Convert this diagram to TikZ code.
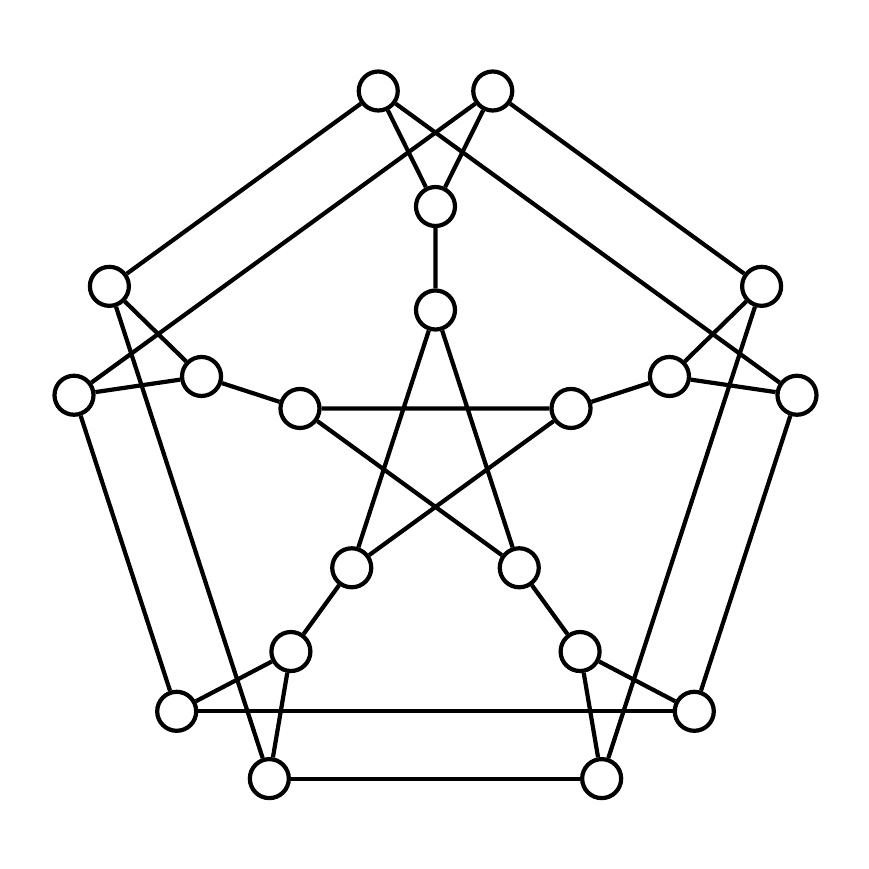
\documentclass[tikz,border=0pt]{standalone}
\usepackage{amsmath}
\usepackage{tikz}
\usetikzlibrary{shapes,arrows}

\begin{document}
\begin{tikzpicture}%[thick,node distance=2cm]
                [every path/.style={line width=1.2pt},
                 every node/.style={draw,circle,minimum size=3.9mm,inner sep=0pt}]
  \useasboundingbox (-4.355,-4.165) rectangle (4.335,4.525);
  % outer pairs
  \node (o0a) at (81:3.66)  {};
  \node (o0b) at (99:3.66)  {};
  \node (o1a) at (153:3.66) {};
  \node (o1b) at (171:3.66) {};
  \node (o2a) at (225:3.66) {};
  \node (o2b) at (243:3.66) {};
  \node (o3a) at (297:3.66) {};
  \node (o3b) at (315:3.66) {};
  \node (o4a) at (9:3.66)   {};
  \node (o4b) at (27:3.66)  {};
  % middle ring
  \node (m0) at (90:2.46)  {};
  \node (m1) at (162:2.46) {};
  \node (m2) at (234:2.46) {};
  \node (m3) at (306:2.46) {};
  \node (m4) at (18:2.46)  {};
  % inner star
  \node (i0) at (90:1.425)  {};
  \node (i1) at (162:1.425) {};
  \node (i2) at (234:1.425) {};
  \node (i3) at (306:1.425) {};
  \node (i4) at (18:1.425)  {};
  % spokes
  \draw (o0a) -- (m0) -- (o0b) (m0) -- (i0);
  \draw (o1a) -- (m1) -- (o1b) (m1) -- (i1);
  \draw (o2a) -- (m2) -- (o2b) (m2) -- (i2);
  \draw (o3a) -- (m3) -- (o3b) (m3) -- (i3);
  \draw (o4a) -- (m4) -- (o4b) (m4) -- (i4);
  % outer links
  \draw (o0b) -- (o1a) (o0a) -- (o1b);
  \draw (o1a) -- (o2b) (o1b) -- (o2a);
  \draw (o2a) -- (o3b) (o2b) -- (o3a);
  \draw (o3b) -- (o4a) (o3a) -- (o4b);
  \draw (o4a) -- (o0b) (o4b) -- (o0a);
  % pentagram
  \draw (i0) -- (i2) -- (i4) -- (i1) -- (i3) -- (i0);
\end{tikzpicture}
\end{document}
